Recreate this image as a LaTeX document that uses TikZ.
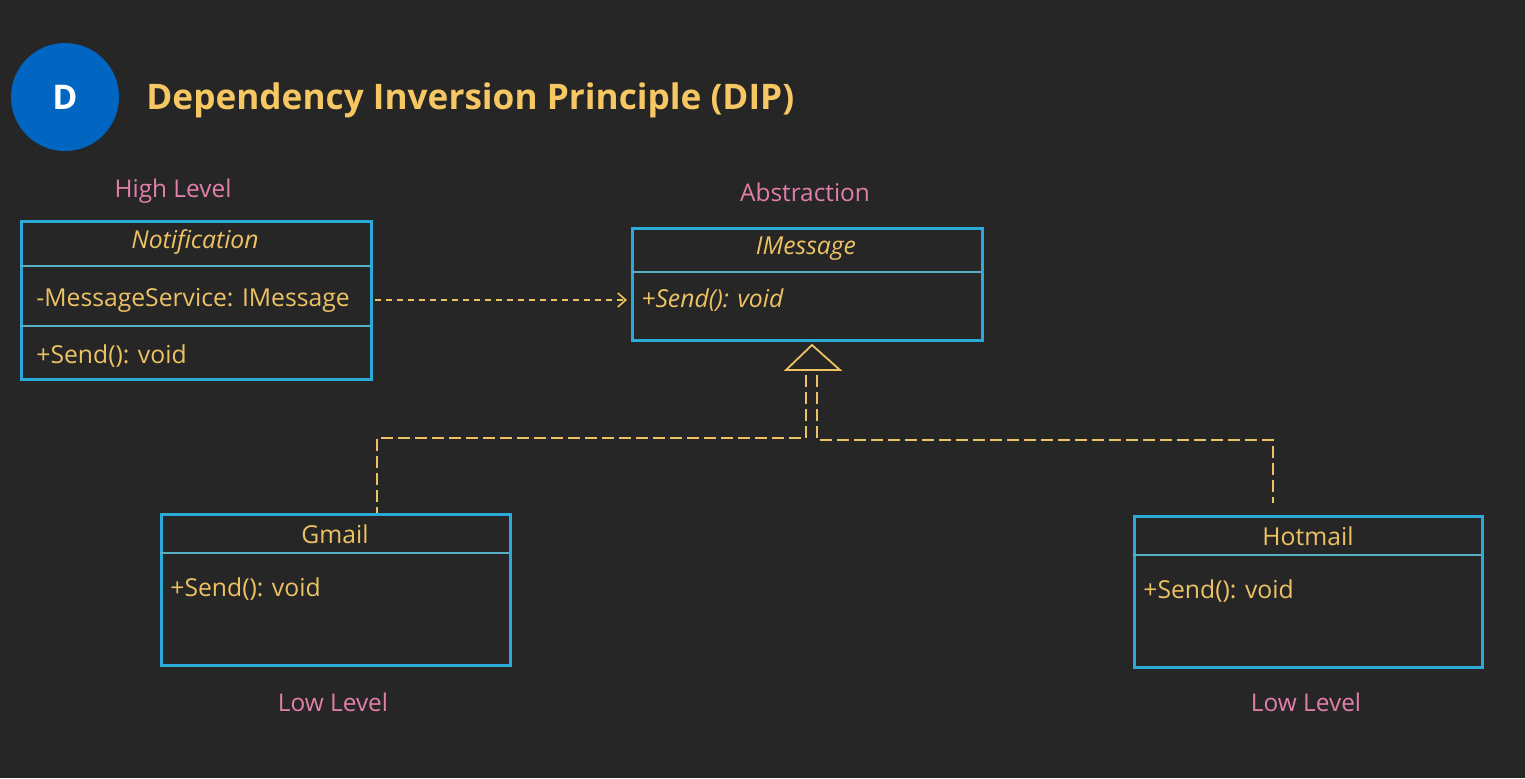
\documentclass[tikz,border=0pt]{standalone}
\usepackage{fontspec}
\setmainfont{Open Sans}
\usetikzlibrary{arrows.meta}
\definecolor{bg}{HTML}{262626}
\definecolor{gold}{HTML}{EDC263}
\definecolor{titlegold}{HTML}{F6C762}
\definecolor{pinklab}{HTML}{E27FA8}
\definecolor{boxblue}{HTML}{2BAAD8}
\definecolor{sepblue}{HTML}{5AAFC6}
\definecolor{dblue}{HTML}{0066C2}
\tikzset{
  umlbox/.style={draw=boxblue, line width=1.5pt, anchor=north west, inner sep=0pt},
  sepline/.style={draw=sepblue, line width=1pt},
  btext/.style={text=gold, font=\fontsize{12.35}{14}\selectfont, inner sep=0pt},
  itext/.style={btext, font=\fontsize{12.35}{14}\selectfont\itshape},
  lab/.style={text=pinklab, font=\fontsize{12.2}{14}\selectfont, inner sep=0pt},
  dep/.style={draw=gold, line width=0.8pt, dash pattern=on 3pt off 2.5pt, -{Straight Barb[length=4pt,width=7pt]}},
  real/.style={draw=gold, line width=0.8pt, dash pattern=on 6pt off 2.5pt},
}
\begin{document}
\begin{tikzpicture}[x=0.5pt,y=-0.5pt]
\fill[bg] (0,0) rectangle (1525,778);
\useasboundingbox (0,0) rectangle (1525,778);
% header
\node[circle, fill=dblue, minimum size=54pt, inner sep=0pt, text=white, font=\fontsize{17}{20}\selectfont\bfseries] (dcirc) at (65,97) {D};
\node[anchor=west, text=titlegold, inner sep=0pt, font=\fontsize{17.6}{21}\selectfont\bfseries] (title) at (146,100) {Dependency Inversion Principle (DIP)};
% labels
\node[lab] (hl) at (173,191) {High Level};
\node[lab] (ab) at (805,192) {Abstraction};
\node[lab] (ll1) at (333,702) {Low Level};
\node[lab] (ll2) at (1306,702) {Low Level};
% Notification
\node[umlbox, minimum width=175pt, minimum height=79pt] (notif) at (20,220) {};
\draw[sepline] (20,266) -- (370,266);
\draw[sepline] (20,326) -- (370,326);
\node[itext] (notifname) at (195,242) {Notification};
\node[btext, anchor=west] (attr) at (36,300) {-MessageService: IMessage};
\node[btext, anchor=west] (nsend) at (36,356) {+Send(): void};
% IMessage
\node[umlbox, minimum width=175pt, minimum height=56pt] (imsg) at (631,227) {};
\draw[sepline] (631,272) -- (981,272);
\node[itext] (imsgname) at (806,249) {IMessage};
\node[itext, anchor=west] (isend) at (641,300) {+Send(): void};
% Gmail
\node[umlbox, minimum width=174.5pt, minimum height=75.5pt] (gmail) at (160,513) {};
\draw[sepline] (160,553) -- (509,553);
\node[btext] (gname) at (335,534) {Gmail};
\node[btext, anchor=west] (gsend) at (170,589) {+Send(): void};
% Hotmail
\node[umlbox, minimum width=174pt, minimum height=75.5pt] (hotmail) at (1133,515) {};
\draw[sepline] (1133,555) -- (1481,555);
\node[btext] (hname) at (1308,536) {Hotmail};
\node[btext, anchor=west] (hsend) at (1143,591) {+Send(): void};
% dependency
\draw[dep] ([xshift=1pt]notif.east |- attr.center) -- ([xshift=-2pt]imsg.west |- attr.center);
% realization
\coordinate (apex) at (812,345);
\coordinate (tl) at (786,370);
\coordinate (tr) at (840,370);
\draw[gold, line width=0.9pt] (apex) -- (tr) -- (tl) -- cycle;
\coordinate (gl1) at (806,375);
\coordinate (gl2) at (806,438);
\coordinate (gl3) at (377,438);
\draw[real] (gl1) -- (gl2) -- (gl3) -- (gl3 |- gmail.north);
\coordinate (hl1) at (817,375);
\coordinate (hl2) at (817,440);
\coordinate (hl3) at (1273,440);
\coordinate (hl4) at (1273,503);
\draw[real] (hl1) -- (hl2) -- (hl3) -- (hl4);
\end{tikzpicture}
\end{document}
